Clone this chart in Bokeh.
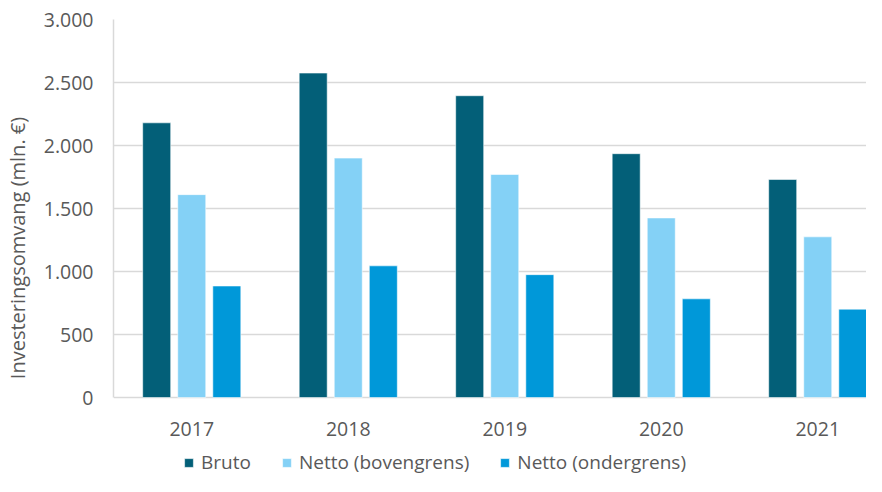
from bokeh.plotting import figure
from bokeh.models import ColumnDataSource, FixedTicker, Legend, LegendItem
from bokeh.embed import file_html
from bokeh.resources import INLINE

years = ["2017", "2018", "2019", "2020", "2021"]
bruto = [2180, 2575, 2395, 1935, 1730]
netto_boven = [1610, 1900, 1770, 1425, 1275]
netto_onder = [885, 1045, 975, 783, 701]
series_names = ["Bruto", "Netto (bovengrens)", "Netto (ondergrens)"]
series_colors = ["#035F78", "#84D1F6", "#0098D9"]
y_ticks = [0, 500, 1000, 1500, 2000, 2500, 3000]
y_tick_labels = ["0", "500", "1.000", "1.500", "2.000", "2.500", "3.000"]
y_title = "Investeringsomvang (mln. €)"

FONT = "Open Sans"
TXT = "#595959"
GRID = "#D9D9D9"

W, H = 866, 476
TOP, LEFT = 19, 113
BASE = 397  # pixel row of value 0
px_per_unit = (BASE - TOP) / 3000.0
y_min = -(H - BASE) / px_per_unit

p = figure(width=W, height=H, output_backend="svg", toolbar_location=None,
           x_range=(0, (W - LEFT) / 156.5), y_range=(y_min, 3000),
           x_axis_location=None,
           min_border_left=LEFT, min_border_right=0, min_border_top=TOP, min_border_bottom=0)
p.outline_line_color = None
p.background_fill_color = "white"

centers = [i + 0.5 for i in range(len(years))]
offsets = [-0.224, 0.0, 0.224]
bw = 0.179
renderers = []
for vals, off, col in zip([bruto, netto_boven, netto_onder], offsets, series_colors):
    src = ColumnDataSource(dict(x=[c + off for c in centers], top=vals))
    r = p.vbar(x="x", top="top", width=bw, bottom=0, source=src, fill_color=col,
               line_color="white", line_alpha=0.55, line_width=1)
    renderers.append(r)

# category labels under the baseline
lab_src = ColumnDataSource(dict(x=centers, y=[0] * len(years), t=years))
p.text(x="x", y="y", text="t", source=lab_src, y_offset=31, text_align="center",
       text_baseline="middle", text_font={"value": FONT}, text_font_size={"value": "19.5px"},
       text_color=TXT)

# y axis
p.yaxis.ticker = FixedTicker(ticks=y_ticks)
p.yaxis.major_label_overrides = {t: l for t, l in zip(y_ticks, y_tick_labels)}
p.yaxis.bounds = (0, 3000)
p.yaxis.major_tick_line_color = None
p.yaxis.minor_tick_line_color = None
p.yaxis.major_tick_out = 0
p.yaxis.major_tick_in = 0
p.yaxis.major_label_text_font = FONT
p.yaxis.major_label_text_font_size = "19.5px"
p.yaxis.major_label_text_color = TXT
p.yaxis.axis_line_color = GRID
p.yaxis.axis_line_width = 1.5
p.yaxis.major_label_standoff = 20
p.yaxis.axis_label = y_title
p.yaxis.axis_label_standoff = 10
p.yaxis.axis_label_text_font = FONT
p.yaxis.axis_label_text_font_size = "20px"
p.yaxis.axis_label_text_font_style = "normal"
p.yaxis.axis_label_text_color = TXT

p.xgrid.grid_line_color = None
p.ygrid.grid_line_color = GRID
p.ygrid.grid_line_width = 1.5
p.ygrid.ticker = FixedTicker(ticks=y_ticks)

legend = Legend(items=[LegendItem(label=n, renderers=[r]) for n, r in zip(series_names, renderers)],
                orientation="horizontal", location=(70, 1),
                padding=0, margin=0, border_line_color=None, background_fill_alpha=0,
                glyph_width=11, glyph_height=11, label_standoff=7, spacing=30,
                label_text_font=FONT, label_text_font_size="19px", label_text_color=TXT,
                label_height=20)
p.add_layout(legend)

open("out.html", "w").write(file_html(p, INLINE))
